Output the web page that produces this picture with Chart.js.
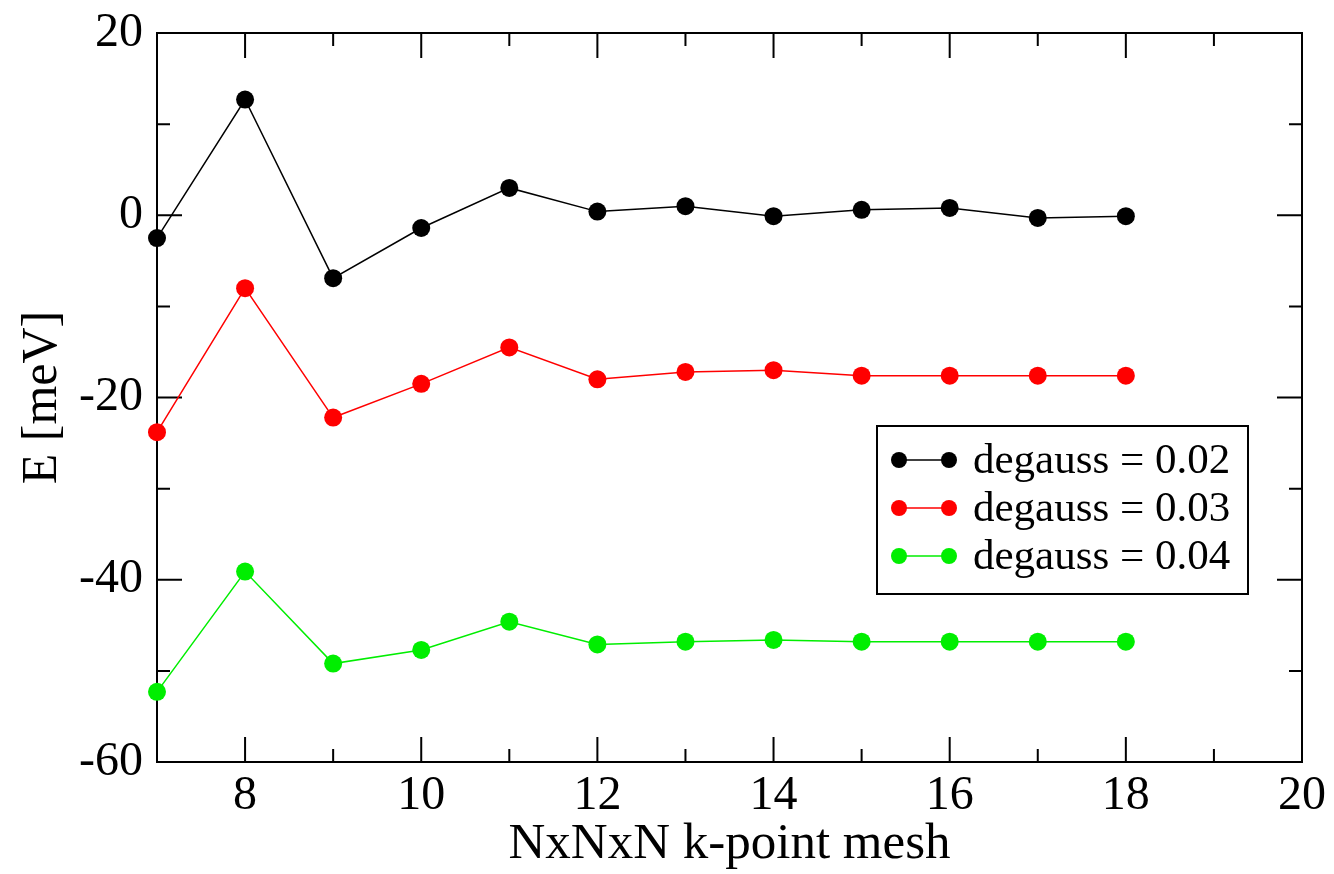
<!DOCTYPE html>
<html>
<head>
<meta charset="utf-8">
<script src="https://cdn.jsdelivr.net/npm/chart.js@4.4.0/dist/chart.umd.min.js"></script>
<style>
  html, body { margin: 0; padding: 0; background: #fff; }
  #wrap { width: 1334px; height: 874px; }
</style>
</head>
<body>
<div id="wrap"><canvas id="chart"></canvas></div>
<script>
// k-point mesh sizes (N for NxNxN)
const meshN = [7, 8, 9, 10, 11, 12, 13, 14, 15, 16, 17, 18];

// energies in meV
const e002 = [-2.5, 12.7, -6.9, -1.4, 3.0, 0.4, 1.0, -0.1, 0.6, 0.8, -0.3, -0.1];
const e003 = [-23.8, -8.0, -22.2, -18.5, -14.5, -18.0, -17.2, -17.0, -17.6, -17.6, -17.6, -17.6];
const e004 = [-52.3, -39.1, -49.2, -47.7, -44.6, -47.1, -46.8, -46.6, -46.8, -46.8, -46.8, -46.8];

const seriesLabels = ['degauss = 0.02', 'degauss = 0.03', 'degauss = 0.04'];
const seriesColors = ['#000000', '#ff0000', '#00ee00'];

const xMin = 7, xMax = 20, yMin = -60, yMax = 20;

const FONT = '"Liberation Serif", "Times New Roman", serif';

function toPoints(ys) {
  return meshN.map((n, i) => ({ x: n, y: ys[i] }));
}

const datasets = [e002, e003, e004].map((ys, i) => ({
  label: seriesLabels[i],
  data: toPoints(ys),
  borderColor: seriesColors[i],
  backgroundColor: seriesColors[i],
  borderWidth: 1.5,
  pointRadius: 9,
  pointHoverRadius: 9,
  pointBorderWidth: 0,
  showLine: true,
  clip: false
}));

// inward ticks on all four sides + frame, xmgrace style
const frameTicks = {
  id: 'frameTicks',
  beforeDatasetsDraw(chart) {
    const { ctx, chartArea: a, scales } = chart;
    ctx.save();
    ctx.strokeStyle = '#000';
    ctx.lineWidth = 2;
    ctx.strokeRect(a.left, a.top, a.right - a.left, a.bottom - a.top);
    ctx.beginPath();
    scales.x.ticks.forEach(t => {
      const px = scales.x.getPixelForValue(t.value);
      const len = t.value % 2 === 0 ? 25 : 13;
      ctx.moveTo(px, a.bottom); ctx.lineTo(px, a.bottom - len);
      ctx.moveTo(px, a.top); ctx.lineTo(px, a.top + len);
    });
    scales.y.ticks.forEach(t => {
      const py = scales.y.getPixelForValue(t.value);
      const len = t.value % 20 === 0 ? 25 : 13;
      ctx.moveTo(a.left, py); ctx.lineTo(a.left + len, py);
      ctx.moveTo(a.right, py); ctx.lineTo(a.right - len, py);
    });
    ctx.stroke();
    ctx.restore();
  }
};

// boxed legend inside the plot area
const boxLegend = {
  id: 'boxLegend',
  afterDatasetsDraw(chart) {
    const { ctx } = chart;
    const left = 877, top = 426, w = 371, h = 168;
    const rowH = 48, firstRow = 460;
    ctx.save();
    ctx.fillStyle = '#fff';
    ctx.fillRect(left, top, w, h);
    ctx.strokeStyle = '#000';
    ctx.lineWidth = 2;
    ctx.strokeRect(left, top, w, h);
    ctx.font = '43px ' + FONT;
    ctx.textBaseline = 'middle';
    chart.data.datasets.forEach((ds, i) => {
      const y = firstRow + i * rowH;
      ctx.strokeStyle = ds.borderColor;
      ctx.fillStyle = ds.borderColor;
      ctx.lineWidth = 1.5;
      ctx.beginPath();
      ctx.moveTo(899, y); ctx.lineTo(949, y);
      ctx.stroke();
      [899, 949].forEach(cx => {
        ctx.beginPath();
        ctx.arc(cx, y, 8, 0, Math.PI * 2);
        ctx.fill();
      });
      ctx.fillStyle = '#000';
      ctx.fillText(ds.label, 973, y + 2);
    });
    ctx.restore();
  }
};

new Chart(document.getElementById('chart'), {
  type: 'scatter',
  data: { datasets },
  options: {
    responsive: true,
    maintainAspectRatio: false,
    animation: false,
    events: [],
    layout: { padding: { left: 0, top: 33, right: 32, bottom: 0 } },
    plugins: {
      legend: { display: false },
      tooltip: { enabled: false }
    },
    scales: {
      x: {
        type: 'linear',
        min: xMin,
        max: xMax,
        afterFit(s) { s.height = 112; },
        grid: { display: false, drawTicks: false },
        border: { display: false },
        ticks: {
          stepSize: 1,
          autoSkip: false,
          maxRotation: 0,
          padding: 6,
          color: '#000',
          font: { family: FONT, size: 48 },
          callback: v => (v % 2 === 0 ? String(v) : '')
        },
        title: {
          display: true,
          text: 'NxNxN k-point mesh',
          color: '#000',
          font: { family: FONT, size: 51, lineHeight: 1 },
          padding: { top: 0, bottom: 4 }
        }
      },
      y: {
        type: 'linear',
        min: yMin,
        max: yMax,
        afterFit(s) {
          s.width = 157;
          s.paddingTop = 0;
          s.paddingBottom = 0;
        },
        grid: { display: false, drawTicks: false },
        border: { display: false },
        ticks: {
          stepSize: 10,
          autoSkip: false,
          padding: 14,
          color: '#000',
          font: { family: FONT, size: 48 },
          callback: v => (v % 20 === 0 ? String(v) : '')
        },
        title: {
          display: true,
          text: 'E [meV]',
          color: '#000',
          font: { family: FONT, size: 50, lineHeight: 1 },
          padding: { top: 18, bottom: 0 }
        }
      }
    }
  },
  plugins: [frameTicks, boxLegend]
});
</script>
</body>
</html>
